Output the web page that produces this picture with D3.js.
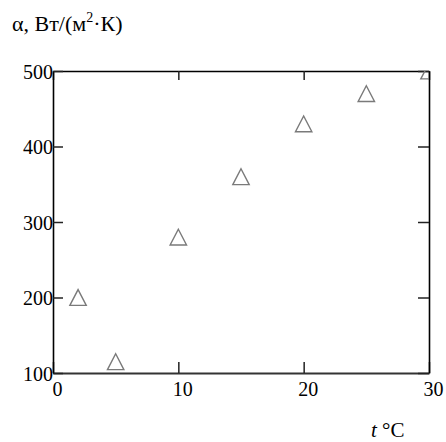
<!DOCTYPE html>
<html>
<head>
<meta charset="utf-8">
<script src="https://cdn.jsdelivr.net/npm/d3@7"></script>
<style>
  svg text { font-family: 'Liberation Serif', 'Times New Roman', serif; }
</style>
</head>
<body style="margin:0">
<script>
// data
var temps = [2, 5, 10, 15, 20, 25, 30];
var alphas = [200, 115, 280, 360, 430, 470, 500];
var xTicks = [0, 10, 20, 30];
var yTicks = [100, 200, 300, 400, 500];

var margin = { left: 53, right: 17, top: 71, bottom: 69 };
var width = 446 - margin.left - margin.right;
var height = 442 - margin.top - margin.bottom;

var svg = d3.select('body')
	.append('svg')
	.attr('width', 446)
	.attr('height', 442);

var g = svg.append('g').attr('transform', 'translate(' + margin.left + ', ' + margin.top + ')');

var x = d3.scaleLinear().domain([0, 30]).range([0, width]);
var y = d3.scaleLinear().domain([100, 500]).range([height, 0]);

// clip so the last triangle gets cut by the frame
g.append('clipPath').attr('id', 'plotClip')
	.append('rect').attr('width', width).attr('height', height);

// axes, ticks pointing inward
var bottomAxis = g.append('g').attr('class', 'x-axis')
	.attr('transform', 'translate(0, ' + height + ')')
	.call(d3.axisBottom(x).tickValues(xTicks).tickSizeInner(-11).tickSizeOuter(0).tickPadding(9));
var topAxis = g.append('g')
	.call(d3.axisTop(x).tickValues(xTicks).tickSizeInner(-9).tickSizeOuter(0).tickFormat(''));
var leftAxis = g.append('g').attr('class', 'y-axis')
	.call(d3.axisLeft(y).tickValues(yTicks).tickSizeInner(-10).tickSizeOuter(0).tickPadding(0));
var rightAxis = g.append('g')
	.attr('transform', 'translate(' + width + ', 0)')
	.call(d3.axisRight(y).tickValues(yTicks).tickSizeInner(-11).tickSizeOuter(0).tickFormat(''));

// drop the sans-serif d3 puts on axis groups
g.selectAll('g').attr('font-family', null);

g.selectAll('.domain').attr('stroke', '#000').attr('stroke-width', 1.6);
g.selectAll('.tick line').attr('stroke', '#222').attr('stroke-width', 1.5);
bottomAxis.select('.domain').attr('stroke', '#333').attr('stroke-width', 2);

bottomAxis.selectAll('text')
	.style('font-size', '20px')
	.attr('dx', 4)
	.attr('fill', '#000');
leftAxis.selectAll('text')
	.style('font-size', '20px')
	.attr('dy', '0.35em')
	.attr('fill', '#000');

// triangle marker, a bit wider than equilateral
var tri = {
	draw: function(ctx, size) {
		var w = 8.2, h = 7.9;
		ctx.moveTo(0, -h);
		ctx.lineTo(w, h);
		ctx.lineTo(-w, h);
		ctx.closePath();
	}
};

var pts = temps.map(function(t, i) { return { t: t, a: alphas[i] }; });

g.append('g').attr('clip-path', 'url(#plotClip)')
	.selectAll('path')
	.data(pts)
	.enter()
	.append('path')
	.attr('d', d3.symbol().type(tri))
	.attr('transform', function(d) { return 'translate(' + x(d.t) + ',' + y(d.a) + ')'; })
	.attr('fill', 'none')
	.attr('stroke', '#7a7a7a')
	.attr('stroke-width', 1.4);

// axis titles
var yt = svg.append('text')
	.attr('x', 12)
	.attr('y', 31)
	.style('font-size', '22px');
yt.append('tspan').text('α, Вт/(м');
yt.append('tspan').style('font-size', '14px').attr('dy', -9).text('2');
yt.append('tspan').attr('dy', 9).text('·К)');

var xt = svg.append('text')
	.attr('x', 371)
	.attr('y', 437)
	.style('font-size', '21px');
xt.append('tspan').style('font-style', 'italic').text('t');
xt.append('tspan').text(' °C');
</script>
</body>
</html>
